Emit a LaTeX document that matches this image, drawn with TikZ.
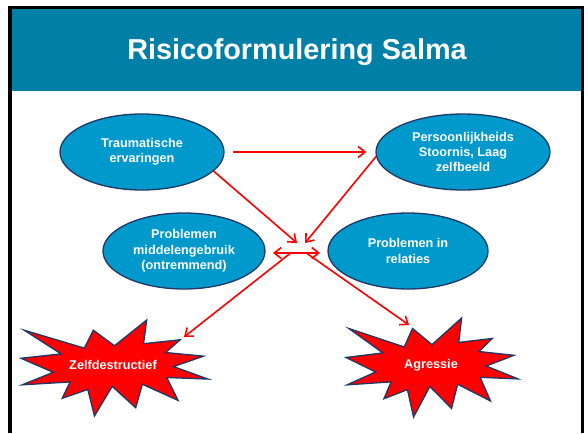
\documentclass[tikz,border=0pt]{standalone}
\usepackage{fontspec}
\setmainfont{Liberation Sans}
\usetikzlibrary{shapes.geometric,arrows.meta,calc}
\definecolor{band}{HTML}{0080A6}
\definecolor{ellfill}{HTML}{0099CC}
\definecolor{navy}{HTML}{1F3864}
\definecolor{arrred}{HTML}{FF0000}
\newcommand{\sealpath}{(50.00,26.85) -- (67.23,0) -- (65.53,24.65) -- (85.09,20.63) -- (77.32,33.87) -- (97.67,37.67) -- (81.51,48.50) -- (100,61.53) -- (77.95,59.92) -- (84.00,83.77) -- (64.91,66.93) -- (61.33,91.38) -- (48.76,69.14) -- (39.28,100) -- (35.72,72.35) -- (22.05,81.56) -- (26.24,64.52) -- (0.63,67.53) -- (17.23,54.51) -- (0,39.88) -- (21.42,35.26) -- (1.71,10.63) -- (33.85,29.26) -- (38.67,10.63) -- cycle}
\begin{document}
\begin{tikzpicture}[x=1pt,y=-1pt,
  bubble/.style={ellipse, draw=navy, line width=1.3pt, fill=ellfill, text=white,
    font=\bfseries\fontsize{12.7}{15.3}\selectfont, align=center, inner sep=0pt},
  starshape/.style={draw=navy, line width=1.3pt, fill=arrred, line join=miter},
  startext/.style={text=white, font=\bfseries\fontsize{12.7}{15}\selectfont, inner sep=0pt},
  arr/.style={draw=arrred, line width=1.6pt, -{Straight Barb[length=7pt,width=11pt]}},
  dblarr/.style={draw=arrred, line width=1.6pt, {Straight Barb[length=7pt,width=11pt]}-{Straight Barb[length=7pt,width=11pt]}}]
\useasboundingbox (0,0) rectangle (588,433);
\fill[white] (0,0) rectangle (588,433);
% frame
\fill[black] (8.3,5.7) rectangle (584,433);
\fill[white] (12.2,9.2) rectangle (581,433.5);
\fill[band] (12.2,9.2) rectangle (581,91);
\node[text=white, font=\bfseries\fontsize{28.8}{32}\selectfont, anchor=base] (title) at (297,59.5) {Risicoformulering Salma};
% ellipses
\node[bubble, minimum width=164pt, minimum height=76pt] (t) at (142,152) {Traumatische\\ervaringen};
\node[bubble, minimum width=174pt, minimum height=76pt] (p) at (463,152) {Persoonlijkheids\\Stoornis, Laag\\zelfbeeld};
\node[bubble, minimum width=162pt, minimum height=76pt] (m) at (184,251) {Problemen\\middelengebruik\\(ontremmend)};
\node[bubble, minimum width=160pt, minimum height=76pt] (r) at (408,251) {Problemen in\\relaties};
% stars
\begin{scope}[shift={(21,320)}, xscale=1.87, yscale=0.96]
  \path[starshape] \sealpath;
\end{scope}
\begin{scope}[shift={(346,318)}, xscale=1.72, yscale=0.99]
  \path[starshape] \sealpath;
\end{scope}
\node[startext] (z) at (113,365) {Zelfdestructief};
\node[startext] (a) at (431,365) {Agressie};
% hub coordinates
\coordinate (h1) at (297,243);
\coordinate (h2) at (305,243);
\coordinate (hl) at (273,253);
\coordinate (hr) at (320,253);
\coordinate (d1) at (290,253.5);
\coordinate (d2) at (307,253.5);
\coordinate (ze) at (184,337);
\coordinate (ae) at (409,325);
% connectors
\draw[arr, shorten <=8pt, shorten >=9pt] (t.east) -- (p.west);
\draw[arr] (t.-15) -- (h1);
\draw[arr] (p.183) -- (h2);
\draw[dblarr] (hl) -- (hr);
\draw[arr] (d1) -- (ze);
\draw[arr] (d2) -- (ae);
\end{tikzpicture}
\end{document}
